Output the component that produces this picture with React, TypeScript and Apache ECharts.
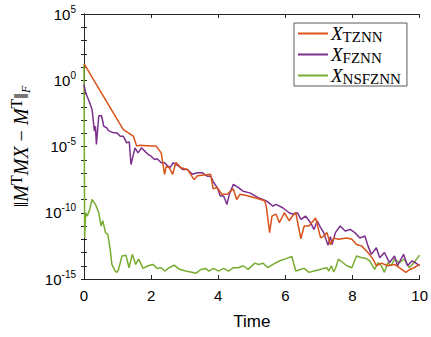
import React, { useEffect, useRef } from "react";
import * as echarts from "echarts";

// time values and log10 of the error for each model
const tznnT = [0, 1.17, 1.47, 1.57, 1.66, 2.0, 2.15, 2.3, 2.4, 2.45, 2.54, 2.64, 2.74, 2.89, 3.08, 3.28, 3.38, 3.77, 3.85, 3.97, 4.11, 4.26, 4.35, 4.45, 4.55, 4.65, 4.84, 5.14, 5.38, 5.43, 5.53, 5.6, 5.72, 5.82, 5.97, 6.11, 6.21, 6.31, 6.46, 6.56, 6.7, 6.9, 7.05, 7.14, 7.24, 7.34, 7.44, 7.58, 7.83, 7.98, 8.12, 8.27, 8.46, 8.61, 8.71, 8.86, 9.05, 9.25, 9.39, 9.59, 9.69, 9.83, 10];
const tznnLog = [1.26, -3.72, -4.22, -4.97, -4.9, -4.97, -4.97, -5.48, -7.1, -6.5, -6.6, -7.1, -6.2, -6.6, -6.73, -7.5, -7.2, -7.1, -8.2, -8.1, -8.6, -8.6, -8.4, -8.2, -9.0, -8.6, -8.7, -8.9, -9.1, -9.5, -11.5, -10.25, -10.1, -10.75, -10.0, -10.6, -10.25, -10.0, -11.96, -11.0, -11.0, -10.4, -11.9, -11.76, -11.5, -12.4, -11.9, -12.0, -11.9, -12.0, -12.4, -12.5, -13.0, -13.5, -14.0, -13.8, -14.0, -13.9, -14.15, -14.5, -14.3, -14.15, -13.9];

const fznnT = [0, 0.05, 0.17, 0.24, 0.31, 0.34, 0.37, 0.44, 0.52, 0.59, 0.68, 0.73, 0.88, 0.98, 1.08, 1.17, 1.27, 1.35, 1.4, 1.52, 1.61, 1.71, 1.81, 1.91, 2.0, 2.1, 2.18, 2.3, 2.4, 2.5, 2.56, 2.66, 2.79, 2.94, 3.08, 3.23, 3.38, 3.52, 3.67, 3.77, 3.87, 3.97, 4.06, 4.16, 4.26, 4.33, 4.45, 4.6, 4.74, 4.94, 5.19, 5.33, 5.43, 5.63, 5.72, 5.92, 6.11, 6.21, 6.36, 6.46, 6.6, 6.75, 6.85, 6.95, 7.05, 7.14, 7.27, 7.34, 7.39, 7.49, 7.63, 7.78, 7.93, 8.07, 8.22, 8.37, 8.46, 8.56, 8.71, 8.81, 8.95, 9.1, 9.25, 9.34, 9.52, 9.64, 9.77, 9.87, 10];
const fznnLog = [-0.33, -0.95, -1.7, -2.2, -3.84, -3.47, -4.85, -2.7, -2.66, -3.47, -3.6, -3.8, -3.97, -3.97, -4.22, -4.22, -4.72, -4.65, -6.36, -5.1, -5.48, -5.1, -5.35, -5.6, -5.73, -5.98, -5.93, -6.23, -6.23, -6.48, -6.6, -6.23, -6.43, -6.73, -6.73, -7.1, -6.98, -6.98, -7.24, -7.24, -7.74, -8.1, -8.74, -8.74, -9.37, -8.6, -7.86, -8.1, -8.37, -8.5, -8.86, -9.0, -9.1, -9.5, -9.37, -9.62, -10.0, -10.1, -10.0, -10.5, -10.25, -10.75, -11.26, -10.62, -11.13, -11.5, -12.46, -11.8, -12.4, -11.5, -11.0, -11.38, -11.26, -11.5, -11.9, -11.76, -12.5, -13.14, -12.64, -13.4, -13.0, -13.77, -13.27, -14.0, -13.14, -14.0, -13.64, -13.77, -14.0];

const nsfT = [0, 0.02, 0.05, 0.1, 0.17, 0.24, 0.34, 0.44, 0.51, 0.56, 0.64, 0.71, 0.78, 0.83, 0.93, 0.98, 1.03, 1.13, 1.25, 1.34, 1.44, 1.54, 1.63, 1.76, 1.91, 2.05, 2.18, 2.3, 2.4, 2.54, 2.69, 2.84, 3.03, 3.18, 3.33, 3.47, 3.62, 3.72, 3.86, 4.01, 4.16, 4.31, 4.45, 4.6, 4.74, 4.89, 5.09, 5.21, 5.33, 5.48, 5.63, 5.82, 6.02, 6.19, 6.31, 6.46, 6.56, 6.7, 6.85, 7.0, 7.14, 7.24, 7.29, 7.37, 7.44, 7.5, 7.58, 7.68, 7.83, 7.98, 8.12, 8.27, 8.41, 8.51, 8.66, 8.76, 8.86, 8.95, 9.05, 9.15, 9.25, 9.39, 9.54, 9.69, 9.83, 10];
const nsfLog = [1.2, -11.9, -10.0, -10.25, -9.75, -9.0, -9.37, -10.0, -11.0, -10.6, -11.5, -11.63, -12.76, -13.9, -14.4, -14.5, -14.27, -13.27, -13.2, -14.15, -13.14, -13.9, -13.5, -14.2, -14.0, -13.9, -14.2, -14.15, -14.4, -14.15, -13.95, -14.27, -14.4, -14.47, -14.57, -14.3, -14.2, -14.4, -14.2, -14.4, -14.2, -14.4, -14.15, -14.15, -14.0, -14.27, -13.8, -13.9, -13.8, -14.15, -13.9, -13.64, -13.46, -13.3, -14.4, -14.27, -14.2, -14.5, -14.4, -14.3, -14.2, -14.15, -14.4, -14.0, -14.47, -14.15, -13.5, -13.7, -14.0, -14.15, -13.27, -13.4, -13.46, -13.64, -14.27, -13.77, -14.0, -14.5, -13.77, -14.0, -13.5, -13.77, -13.5, -14.15, -13.77, -13.2];

const seriesNames = ["TZNN", "FZNN", "NSFZNN"];
const colors = ["#D95319", "#7E2F8E", "#77AC30"];
const xTicks = [0, 2, 4, 6, 8, 10];
const yExponents = [-15, -10, -5, 0, 5];

const toPairs = (t: number[], l: number[]) => t.map((x, i) => [x, Math.pow(10, l[i])]);

export default function App() {
  const ref = useRef<HTMLDivElement>(null);
  useEffect(() => {
    document.body.style.margin = "0";
    const chart = echarts.init(ref.current!, undefined, { renderer: "svg" });
    const axisColor = "#262626";
    const labelFont = "'Liberation Sans', Arial, sans-serif";
    const yMin = Math.pow(10, yExponents[0]);
    const yMax = Math.pow(10, yExponents[yExponents.length - 1]);
    const labelled = (v: number) => yExponents.includes(Math.round(Math.log10(v)));
    const baseX = {
      type: "value",
      min: xTicks[0],
      max: xTicks[xTicks.length - 1],
      interval: 2,
      axisLine: { show: true, onZero: false, lineStyle: { color: axisColor, width: 1 } },
      axisTick: { show: true, inside: true, length: 4, lineStyle: { color: axisColor } },
      splitLine: { show: false },
    };
    const baseY = {
      type: "log",
      logBase: 10,
      min: yMin,
      max: yMax,
      interval: 1,
      axisLine: { show: true, lineStyle: { color: axisColor, width: 1 } },
      axisTick: { show: true, inside: true, length: 3, lineStyle: { color: axisColor } },
      splitLine: { show: false },
    };
    const data = [toPairs(tznnT, tznnLog), toPairs(fznnT, fznnLog), toPairs(nsfT, nsfLog)];
    chart.setOption({
      animation: false,
      backgroundColor: "#ffffff",
      grid: { left: 81, right: 9, top: 14, bottom: 58, containLabel: false },
      legend: {
        show: true,
        orient: "vertical",
        left: 294,
        top: 23,
        backgroundColor: "#ffffff",
        borderColor: "#5a5a5a",
        borderWidth: 1,
        padding: [0, 6, 0, 4],
        itemGap: 0,
        itemWidth: 30,
        itemHeight: 2,
        icon: "rect",
        data: seriesNames,
        formatter: (name: string) => `{i|X}{s|${name}}`,
        textStyle: {
          color: "#000",
          padding: [0, 0, 0, -2],
          rich: {
            i: { fontFamily: "'Liberation Serif', serif", fontStyle: "italic", fontSize: 19, lineHeight: 20 },
            s: { fontFamily: "'Liberation Serif', serif", fontSize: 15, lineHeight: 14, padding: [6, 0, 0, 0] },
          },
        },
      },
      xAxis: [
        {
          ...baseX,
          position: "bottom",
          name: "Time",
          nameLocation: "middle",
          nameGap: 34,
          nameTextStyle: { fontFamily: labelFont, fontSize: 17, color: "#000" },
          axisLabel: { show: true, margin: 9, fontFamily: labelFont, fontSize: 15, color: "#000" },
        },
        { ...baseX, position: "top", axisLabel: { show: false } },
      ],
      yAxis: [
        {
          ...baseY,
          position: "left",
          name: "{n|‖}{i|M}{u|T}{i|MX}{n| − }{i|M}{u|T}{n|‖}{d|F}",
          nameLocation: "middle",
          nameRotate: 90,
          nameGap: 50,
          nameTextStyle: {
            color: "#000",
            rich: {
              n: { fontFamily: "'Liberation Serif', serif", fontSize: 20 },
              i: { fontFamily: "'Liberation Serif', serif", fontStyle: "italic", fontSize: 20 },
              u: { fontFamily: "'Liberation Serif', serif", fontSize: 16, padding: [0, 0, 10, 0] },
              d: { fontFamily: "'Liberation Serif', serif", fontStyle: "italic", fontSize: 12, padding: [9, 0, 0, 0] },
            },
          },
          axisLabel: {
            show: true,
            margin: 8,
            showMinLabel: true,
            showMaxLabel: true,
            formatter: (v: number) => (labelled(v) ? `{b|10}{s|${Math.round(Math.log10(v))}}` : ""),
            rich: {
              b: { fontFamily: labelFont, fontSize: 15, color: "#000" },
              s: { fontFamily: labelFont, fontSize: 10, color: "#000", padding: [0, 0, 10, 0] },
            },
          },
        },
        { ...baseY, position: "right", axisLabel: { show: false } },
      ],
      series: seriesNames.map((n, i) => ({
        name: n,
        type: "line",
        data: data[i],
        showSymbol: false,
        symbol: "none",
        color: colors[i],
        lineStyle: { color: colors[i], width: 1.5 },
        xAxisIndex: 0,
        yAxisIndex: 0,
        z: i === 2 ? 1 : 3 - i,
      })),
    });
    return () => chart.dispose();
  }, []);
  return <div ref={ref} style={{ position: "absolute", left: 0, top: 0, width: 431, height: 337 }} />;
}
